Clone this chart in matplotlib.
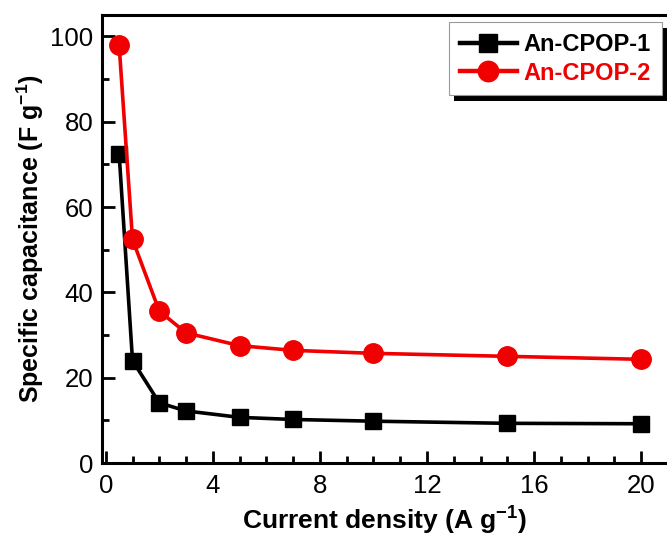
import matplotlib
matplotlib.use("Agg")
import matplotlib.pyplot as plt
from matplotlib.patches import Rectangle
from matplotlib.ticker import MultipleLocator

plt.rcParams['font.family'] = ['Liberation Sans', 'DejaVu Sans']
plt.rcParams['mathtext.fontset'] = 'custom'
plt.rcParams['mathtext.rm'] = 'Liberation Sans'
plt.rcParams['mathtext.bf'] = 'Liberation Sans:bold'

current_density = [0.5, 1, 2, 3, 5, 7, 10, 15, 20]
cpop1 = [72.5, 24.0, 14.1, 12.2, 10.7, 10.2, 9.8, 9.3, 9.2]
cpop2 = [98.0, 52.4, 35.6, 30.5, 27.5, 26.4, 25.7, 25.0, 24.3]
labels = ["An-CPOP-1", "An-CPOP-2"]

fig = plt.figure(figsize=(6.67, 5.38), dpi=100)
ax = fig.add_axes([0.1525, 0.1394, 0.849, 0.8327])

ax.plot(current_density, cpop1, color='black', lw=2.6, marker='s', ms=12,
        label=labels[0])
ax.plot(current_density, cpop2, color='#f00000', lw=2.6, marker='o', ms=14,
        label=labels[1])

ax.set_xlim(-0.15, 21.0)
ax.set_ylim(0, 105)
ax.xaxis.set_major_locator(MultipleLocator(4))
ax.xaxis.set_minor_locator(MultipleLocator(1))
ax.yaxis.set_major_locator(MultipleLocator(20))
ax.yaxis.set_minor_locator(MultipleLocator(10))
ax.tick_params(which='both', direction='in', width=2, labelsize=18.5,
               top=False, right=False)
ax.tick_params(which='major', length=9)
ax.tick_params(axis='x', which='major', pad=8)
ax.tick_params(axis='y', which='major', pad=6)
ax.tick_params(which='minor', length=5)
for s in ax.spines.values():
    s.set_linewidth(2.2)

ax.set_xlabel(r"Current density (A g$\mathregular{^{-1}}$)", fontsize=19,
              fontweight='bold', labelpad=5)
ax.set_ylabel(r"Specific capacitance (F g$\mathregular{^{-1}}$)", fontsize=18,
              fontweight='bold', labelpad=3)

leg = ax.legend(loc='upper right', bbox_to_anchor=(0.989, 0.984),
                borderaxespad=0, fancybox=False, framealpha=1,
                edgecolor='#999999', handlelength=2.4, handletextpad=0.3,
                labelspacing=0.25, borderpad=0.45, markerscale=1.05,
                prop={'weight': 'bold', 'size': 17})
leg.get_frame().set_linewidth(0.8)
leg.set_zorder(6)
for txt, c in zip(leg.get_texts(), ['black', '#f00000']):
    txt.set_color(c)
for line in leg.get_lines():
    line.set_linewidth(3.2)

fig.canvas.draw()
bb = leg.get_window_extent()
shadow = Rectangle((bb.x0 + 5, bb.y0 - 6), bb.width, bb.height,
                   transform=None, facecolor='black', edgecolor='none',
                   zorder=5.5, clip_on=False)
ax.add_artist(shadow)

fig.savefig("out.png", dpi=100)
